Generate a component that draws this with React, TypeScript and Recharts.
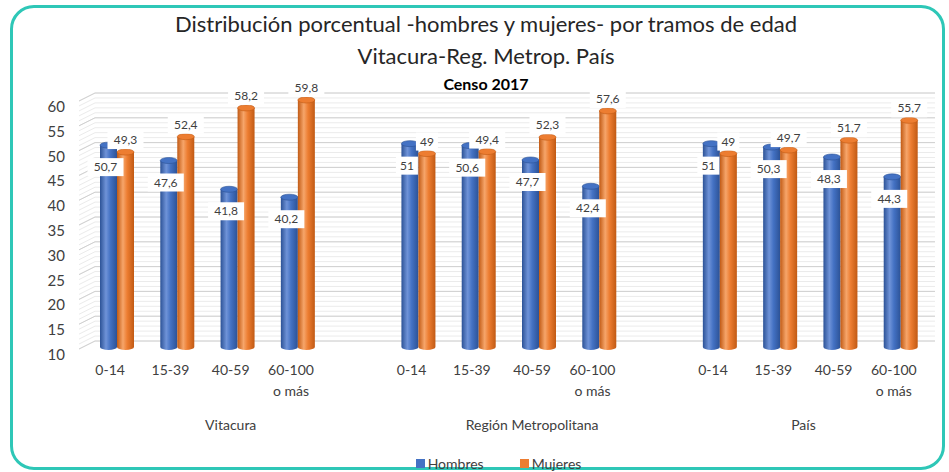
import React from "react";
import { BarChart, Bar, XAxis, YAxis, CartesianGrid, Legend, LabelList } from "recharts";

const AGE_GROUPS = ["0-14", "15-39", "40-59", "60-100\no más"];
const REGIONS = ["Vitacura", "Región Metropolitana", "País"];
const HOMBRES = [
  [50.7, 47.6, 41.8, 40.2],
  [51, 50.6, 47.7, 42.4],
  [51, 50.3, 48.3, 44.3],
];
const MUJERES = [
  [49.3, 52.4, 58.2, 59.8],
  [49, 49.4, 52.3, 57.6],
  [49, 49.7, 51.7, 55.7],
];
const Y_DOMAIN = [10, 60];
const Y_TICKS = [10, 15, 20, 25, 30, 35, 40, 45, 50, 55, 60];
const MINOR_TICKS = Array.from({ length: 51 }, (_, i) => 10 + i);

const FONT = "Lato, 'Open Sans', sans-serif";
const TXT = "#404040";
const BLUE = { edge: "#2c5296", mid: "#4472c4", hi: "#6f93d8" };
const ORANGE = { edge: "#c15a14", mid: "#ed7d31", hi: "#f6a56a" };

// rows: 4 age groups per region, one empty slot after Vitacura and RM
const rows: any[] = [];
const regionSlots: number[][] = [];
REGIONS.forEach((region, r) => {
  const slots: number[] = [];
  AGE_GROUPS.forEach((age, a) => {
    slots.push(rows.length);
    rows.push({ idx: rows.length, key: `${r}-${a}`, age, hombres: HOMBRES[r][a], mujeres: MUJERES[r][a] });
  });
  if (r < REGIONS.length - 1) {
    slots.push(rows.length);
    rows.push({ idx: rows.length, key: `gap-${r}`, age: "", hombres: null, mujeres: null });
  }
  regionSlots.push(slots);
});
const REGION_CENTERS = regionSlots.map((s) => s.reduce((a, b) => a + b, 0) / s.length);

const fmt = (v: number) => String(v).replace(".", ",");

// minor grid lines: linear map of the y domain onto the plot box
const minorLines = ({ offset }: any) =>
  MINOR_TICKS.map((v) => offset.top + (offset.height * (Y_DOMAIN[1] - v)) / (Y_DOMAIN[1] - Y_DOMAIN[0]));

function Cylinder(props: any) {
  const { x, y, width, height, col, id } = props;
  if (height == null || height <= 0) return null;
  const ry = 3;
  const gid = `cyl-${id}`;
  return (
    <g>
      <defs>
        <linearGradient id={gid} x1="0" y1="0" x2="1" y2="0">
          <stop offset="0%" stopColor={col.edge} />
          <stop offset="35%" stopColor={col.hi} />
          <stop offset="60%" stopColor={col.mid} />
          <stop offset="100%" stopColor={col.edge} />
        </linearGradient>
      </defs>
      <path
        d={`M${x},${y} L${x},${y + height} A${width / 2},${ry} 0 0 0 ${x + width},${y + height} L${x + width},${y} Z`}
        fill={`url(#${gid})`}
      />
      <ellipse cx={x + width / 2} cy={y} rx={width / 2} ry={ry} fill={col.mid} stroke={col.edge} strokeWidth={0.6} />
    </g>
  );
}

function BoxLabel(props: any) {
  const { x, y, width, value, below } = props;
  if (value == null) return null;
  const cx = x + width / 2 - (below ? 3 : 0);
  const cy = below ? y + 22 : y - 12;
  const t = fmt(value);
  const w = t.length * 7 + 8;
  return (
    <g>
      <rect x={cx - w / 2} y={cy - 9} width={w} height={18} fill="#fff" />
      <text x={cx} y={cy + 4} textAnchor="middle" fontSize={12} fontFamily={FONT} fill={TXT}>
        {t}
      </text>
    </g>
  );
}

function AgeTick(props: any) {
  const { x, y, index } = props;
  const lines = String(rows[index]?.age ?? "").split("\n");
  return (
    <text x={x - 7} y={y} textAnchor="middle" fontSize={14} fontFamily={FONT} fill={TXT}>
      {lines.map((l, i) => (
        <tspan key={i} x={x - 7} dy={i === 0 ? 20 : 21}>
          {l}
        </tspan>
      ))}
    </text>
  );
}

function RegionTick(props: any) {
  const { x, y, payload } = props;
  const i = REGION_CENTERS.indexOf(payload.value);
  return (
    <text x={x - 7} y={y + 18} textAnchor="middle" fontSize={14} fontFamily={FONT} fill={TXT}>
      {REGIONS[i]}
    </text>
  );
}

function YTick(props: any) {
  const { x, y, payload } = props;
  return (
    <text x={x - 14} y={y + 13} textAnchor="end" fontSize={15} fontFamily={FONT} fill={TXT}>
      {payload.value}
    </text>
  );
}

function wallLine(color: string) {
  return (p: any) => (
    <g key={p.key}>
      <line x1={p.x1 - 8} y1={p.y1 + 2} x2={p.x1 + 8} y2={p.y1 - 6} stroke={color} strokeWidth={1} />
      <line x1={p.x1 + 8} y1={p.y1 - 6} x2={p.x2 + 4} y2={p.y2 - 6} stroke={color} strokeWidth={1} />
    </g>
  );
}

function LegendContent() {
  const item = (label: string, c: string) => (
    <span style={{ display: "inline-flex", alignItems: "center", margin: "0 18px" }}>
      <span style={{ width: 9, height: 9, background: c, marginRight: 3 }} />
      <span>{label}</span>
    </span>
  );
  return (
    <div style={{ textAlign: "center", fontFamily: FONT, fontSize: 14, color: TXT, paddingLeft: 46 }}>
      {item("Hombres", BLUE.mid)}
      {item("Mujeres", ORANGE.mid)}
    </div>
  );
}

export default function App() {
  return (
    <div style={{ position: "absolute", left: 0, top: 0, width: 949, height: 472, background: "#fff", overflow: "hidden" }}>
      <div
        style={{
          position: "absolute",
          left: 10,
          top: 5,
          width: 935,
          height: 465,
          border: "3px solid #2ec7b7",
          borderRadius: 24,
          boxSizing: "border-box",
        }}
      />
      <div style={{ position: "absolute", left: 0, top: 8, width: 972, textAlign: "center", fontFamily: FONT, color: "#262626" }}>
        <div style={{ fontSize: 22, lineHeight: "32px" }}>Distribución porcentual -hombres y mujeres- por tramos de edad</div>
        <div style={{ fontSize: 22, lineHeight: "32px" }}>Vitacura-Reg. Metrop. País</div>
        <div style={{ fontSize: 16, fontWeight: 700, lineHeight: "24px", color: "#000" }}>Censo 2017</div>
      </div>
      <div style={{ position: "absolute", left: 0, top: 0 }}>
        <BarChart width={949} height={472} data={rows} margin={{ top: 99, right: 18, left: 20, bottom: 0 }} barGap={0} barSize={17}>
          <CartesianGrid vertical={false} horizontalCoordinatesGenerator={minorLines} horizontal={wallLine("#ebebeb")} />
          <CartesianGrid vertical={false} syncWithTicks horizontal={wallLine("#d0d0d0")} />
          <XAxis dataKey="key" axisLine={false} tickLine={false} height={57} interval={0} tick={<AgeTick />} />
          <XAxis
            xAxisId="region"
            dataKey="idx"
            type="number"
            domain={[-0.5, rows.length - 0.5]}
            ticks={REGION_CENTERS}
            axisLine={false}
            tickLine={false}
            height={50}
            tick={<RegionTick />}
          />
          <YAxis domain={Y_DOMAIN} ticks={Y_TICKS} axisLine={false} tickLine={false} width={67} tick={<YTick />} />
          <Legend verticalAlign="bottom" height={18} content={<LegendContent />} />
          <Bar dataKey="hombres" name="Hombres" fill={BLUE.mid} isAnimationActive={false} shape={<Cylinder col={BLUE} id="h" />}>
            <LabelList dataKey="hombres" content={<BoxLabel below />} />
          </Bar>
          <Bar dataKey="mujeres" name="Mujeres" fill={ORANGE.mid} isAnimationActive={false} shape={<Cylinder col={ORANGE} id="m" />}>
            <LabelList dataKey="mujeres" content={<BoxLabel />} />
          </Bar>
        </BarChart>
      </div>
    </div>
  );
}
